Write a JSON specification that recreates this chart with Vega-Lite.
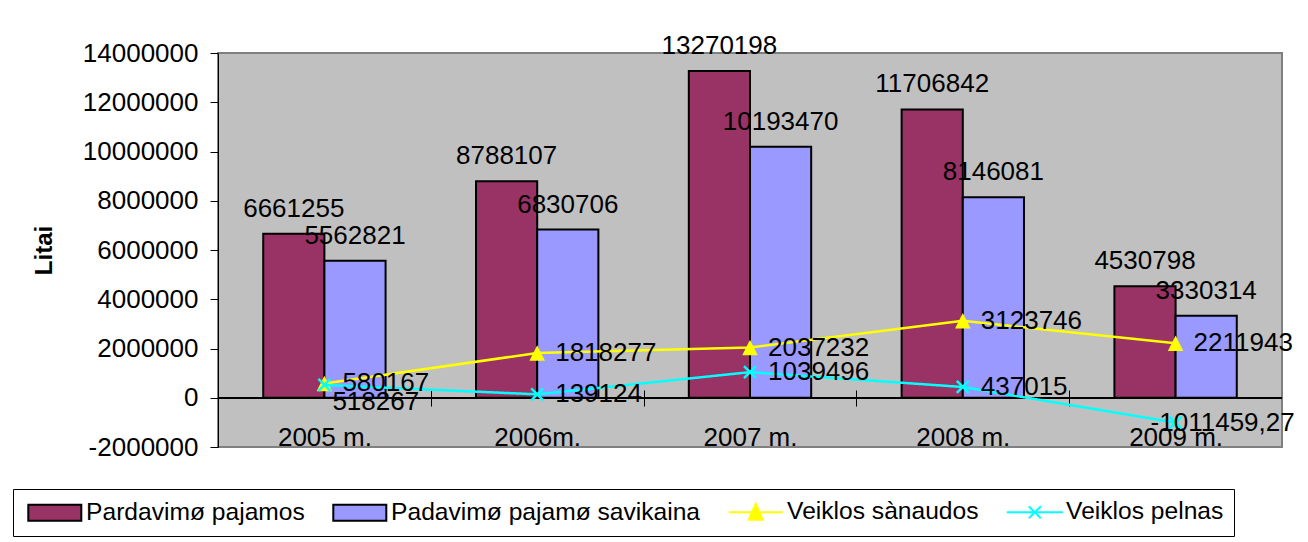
{
  "$schema": "https://vega.github.io/schema/vega-lite/v6.json",
  "width": 1064,
  "height": 394,
  "autosize": {"type": "none"},
  "padding": {"left": 218, "top": 53, "right": 26, "bottom": 95},
  "background": "white",
  "config": {
    "font": "Liberation Sans",
    "view": {"fill": "#C0C0C0", "stroke": "#808080", "strokeWidth": 2},
    "axis": {"labelColor": "black", "titleColor": "black", "tickColor": "black", "domainColor": "black", "grid": false, "labelFont": "Liberation Sans", "titleFont": "Liberation Sans"},
    "legend": {"labelFont": "Liberation Sans", "labelFontSize": 24.6, "labelColor": "black", "labelLimit": 0, "labelOffset": 19, "symbolSize": 400, "symbolOffset": 18.5, "symbolStrokeWidth": 2, "columnPadding": 24, "direction": "horizontal", "orient": "none", "title": null}
  },
  "datasets": {
    "main": [
      {"year": "2005 m.", "series": "Pardavimø pajamos", "kind": "bar", "value": 6661255, "label": "6661255"},
      {"year": "2005 m.", "series": "Padavimø pajamø savikaina", "kind": "bar", "value": 5562821, "label": "5562821"},
      {"year": "2005 m.", "series": "Veiklos sànaudos", "kind": "line", "value": 580167, "label": "580167"},
      {"year": "2005 m.", "series": "Veiklos pelnas", "kind": "line", "value": 518267, "label": "518267"},
      {"year": "2006m.", "series": "Pardavimø pajamos", "kind": "bar", "value": 8788107, "label": "8788107"},
      {"year": "2006m.", "series": "Padavimø pajamø savikaina", "kind": "bar", "value": 6830706, "label": "6830706"},
      {"year": "2006m.", "series": "Veiklos sànaudos", "kind": "line", "value": 1818277, "label": "1818277"},
      {"year": "2006m.", "series": "Veiklos pelnas", "kind": "line", "value": 139124, "label": "139124"},
      {"year": "2007 m.", "series": "Pardavimø pajamos", "kind": "bar", "value": 13270198, "label": "13270198"},
      {"year": "2007 m.", "series": "Padavimø pajamø savikaina", "kind": "bar", "value": 10193470, "label": "10193470"},
      {"year": "2007 m.", "series": "Veiklos sànaudos", "kind": "line", "value": 2037232, "label": "2037232"},
      {"year": "2007 m.", "series": "Veiklos pelnas", "kind": "line", "value": 1039496, "label": "1039496"},
      {"year": "2008 m.", "series": "Pardavimø pajamos", "kind": "bar", "value": 11706842, "label": "11706842"},
      {"year": "2008 m.", "series": "Padavimø pajamø savikaina", "kind": "bar", "value": 8146081, "label": "8146081"},
      {"year": "2008 m.", "series": "Veiklos sànaudos", "kind": "line", "value": 3123746, "label": "3123746"},
      {"year": "2008 m.", "series": "Veiklos pelnas", "kind": "line", "value": 437015, "label": "437015"},
      {"year": "2009 m.", "series": "Pardavimø pajamos", "kind": "bar", "value": 4530798, "label": "4530798"},
      {"year": "2009 m.", "series": "Padavimø pajamø savikaina", "kind": "bar", "value": 3330314, "label": "3330314"},
      {"year": "2009 m.", "series": "Veiklos sànaudos", "kind": "line", "value": 2211943, "label": "2211943"},
      {"year": "2009 m.", "series": "Veiklos pelnas", "kind": "line", "value": -1011459.27, "label": "-1011459,27"}
    ]
  },
  "data": {"name": "main"},
  "layer": [
    {
      "transform": [{"filter": "datum.kind == 'bar'"}],
      "mark": {"type": "bar", "stroke": "black", "strokeWidth": 2},
      "encoding": {
        "x": {
          "field": "year", "type": "nominal",
          "scale": {"domain": ["2005 m.", "2006m.", "2007 m.", "2008 m.", "2009 m."], "paddingInner": 0.425, "paddingOuter": 0.2125},
          "axis": {"title": null, "orient": "bottom", "offset": -57, "domain": false, "ticks": true, "tickSize": 16, "tickColor": "black", "bandPosition": 0.5, "tickOffset": -106.4, "labelOffset": 106.4, "labelFontSize": 26, "labelPadding": 18, "labelAngle": 0, "labelColor": "black"}
        },
        "xOffset": {"field": "series", "type": "nominal", "scale": {"domain": ["Pardavimø pajamos", "Padavimø pajamø savikaina"]}},
        "y": {
          "field": "value", "type": "quantitative", "stack": null,
          "scale": {"domain": [-2000000, 14000000], "nice": false},
          "axis": {"title": "Litai", "titleFontSize": 24, "titleFontWeight": "bold", "titlePadding": 26, "values": [-2000000, 0, 2000000, 4000000, 6000000, 8000000, 10000000, 12000000, 14000000], "labelExpr": "'' + datum.value", "labelFontSize": 26, "labelPadding": 12, "tickSize": 8, "domainColor": "black", "tickColor": "black", "grid": false}
        },
        "color": {
          "field": "series", "type": "nominal",
          "scale": {"domain": ["Pardavimø pajamos", "Padavimø pajamø savikaina", "Veiklos sànaudos", "Veiklos pelnas"], "range": ["#993366", "#9999FF", "#FFFF00", "#00FFFF"]},
          "legend": {
            "orient": "none", "legendX": -205, "legendY": 436, "direction": "horizontal", "columns": 4, "title": null,
            "strokeColor": "black", "padding": 11, "fillColor": "white",
            "symbolType": "M-2.65,-0.8H2.65V0.8H-2.65Z", "symbolStrokeColor": "black", "symbolStrokeWidth": 2
          }
        }
      }
    },
    {
      "mark": {"type": "rule", "color": "black", "strokeWidth": 1},
      "encoding": {"y": {"datum": 0, "type": "quantitative"}}
    },
    {
      "transform": [{"filter": "datum.series == 'Veiklos sànaudos'"}],
      "mark": {"type": "line", "strokeWidth": 2.5},
      "encoding": {
        "x": {"field": "year", "type": "nominal"},
        "y": {"field": "value", "type": "quantitative"},
        "stroke": {
          "field": "series", "type": "nominal",
          "scale": {"domain": ["Veiklos sànaudos"], "range": ["#FFFF00"]},
          "legend": {
            "orient": "none", "legendX": 499, "legendY": 439, "direction": "horizontal", "title": null,
            "padding": 8, "fillColor": "white",
            "symbolType": "M-2.7,0H2.7M0,-0.85L0.7,0.75H-0.7Z", "symbolFillColor": "#FFFF00", "symbolStrokeWidth": 2
          }
        }
      }
    },
    {
      "transform": [{"filter": "datum.series == 'Veiklos sànaudos'"}],
      "mark": {"type": "point", "shape": "M0,-1L1,1L-1,1Z", "filled": true, "size": 240, "opacity": 1, "color": "#FFFF00"},
      "encoding": {
        "x": {"field": "year", "type": "nominal"},
        "y": {"field": "value", "type": "quantitative"}
      }
    },
    {
      "transform": [{"filter": "datum.series == 'Veiklos pelnas'"}],
      "mark": {"type": "line", "strokeWidth": 2.5, "color": "#00FFFF"},
      "encoding": {
        "x": {"field": "year", "type": "nominal"},
        "y": {"field": "value", "type": "quantitative"},
        "strokeDash": {
          "field": "series", "type": "nominal",
          "scale": {"domain": ["Veiklos pelnas"], "range": [[1, 0]]},
          "legend": {
            "orient": "none", "legendX": 778, "legendY": 439, "direction": "horizontal", "title": null,
            "padding": 8, "fillColor": "white",
            "symbolType": "M-2.8,0H2.8M-0.6,-0.6L0.6,0.6M-0.6,0.6L0.6,-0.6", "symbolStrokeColor": "#00FFFF", "symbolFillColor": "transparent", "symbolStrokeWidth": 2
          }
        }
      }
    },
    {
      "transform": [{"filter": "datum.series == 'Veiklos pelnas'"}],
      "mark": {"type": "point", "shape": "M-1,-1L1,1M-1,1L1,-1", "filled": false, "size": 144, "strokeWidth": 2.5, "opacity": 1, "color": "#00FFFF"},
      "encoding": {
        "x": {"field": "year", "type": "nominal"},
        "y": {"field": "value", "type": "quantitative"}
      }
    },
    {
      "transform": [{"filter": "datum.kind == 'bar'"}],
      "mark": {"type": "text", "dy": -17, "baseline": "alphabetic", "align": "center", "fontSize": 26, "color": "black"},
      "encoding": {
        "x": {"field": "year", "type": "nominal"},
        "xOffset": {"field": "series", "type": "nominal"},
        "y": {"field": "value", "type": "quantitative"},
        "text": {"field": "label"}
      }
    },
    {
      "transform": [{"filter": "datum.kind == 'line' && !(datum.series == 'Veiklos pelnas' && (datum.year == '2005 m.' || datum.year == '2009 m.'))"}],
      "mark": {"type": "text", "dx": 18, "baseline": "middle", "align": "left", "fontSize": 26, "color": "black"},
      "encoding": {
        "x": {"field": "year", "type": "nominal"},
        "y": {"field": "value", "type": "quantitative"},
        "text": {"field": "label"}
      }
    },
    {
      "transform": [{"filter": "datum.series == 'Veiklos pelnas' && datum.year == '2005 m.'"}],
      "mark": {"type": "text", "dx": 8, "dy": 17, "baseline": "middle", "align": "left", "fontSize": 26, "color": "black"},
      "encoding": {
        "x": {"field": "year", "type": "nominal"},
        "y": {"field": "value", "type": "quantitative"},
        "text": {"field": "label"}
      }
    },
    {
      "transform": [{"filter": "datum.series == 'Veiklos pelnas' && datum.year == '2009 m.'"}],
      "mark": {"type": "text", "dx": -25, "baseline": "middle", "align": "left", "fontSize": 26, "color": "black"},
      "encoding": {
        "x": {"field": "year", "type": "nominal"},
        "y": {"field": "value", "type": "quantitative"},
        "text": {"field": "label"}
      }
    }
  ]
}
